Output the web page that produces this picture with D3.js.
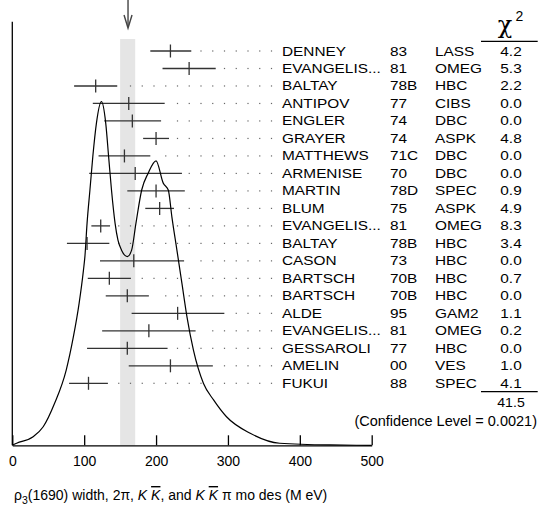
<!DOCTYPE html>
<html><head><meta charset="utf-8">
<script src="https://cdn.jsdelivr.net/npm/d3@7"></script>
<style>
body{margin:0;background:#fff;}
svg{display:block;font-family:"Liberation Sans",Arial,Helvetica,sans-serif;}
</style></head>
<body>
<svg id="c" width="544" height="512"></svg>
<script>
// ---------- data ----------
const authors = ["DENNEY","EVANGELIS...","BALTAY","ANTIPOV","ENGLER","GRAYER","MATTHEWS","ARMENISE","MARTIN","BLUM","EVANGELIS...","BALTAY","CASON","BARTSCH","BARTSCH","ALDE","EVANGELIS...","GESSAROLI","AMELIN","FUKUI"];
const years = ["83","81","78B","77","74","74","71C","70","78D","75","81","78B","73","70B","70B","95","81","77","00","88"];
const techs = ["LASS","OMEG","HBC","CIBS","DBC","ASPK","DBC","DBC","SPEC","ASPK","OMEG","HBC","HBC","HBC","HBC","GAM2","OMEG","HBC","VES","SPEC"];
const chi2 = ["4.2","5.3","2.2","0.0","0.0","4.8","0.0","0.0","0.9","4.9","8.3","3.4","0.0","0.7","0.0","1.1","0.2","0.0","1.0","4.1"];
const values = [220,246,116,162,167,200,156,171,200,205,123,104,169,135,160,230,190,160,220,106];
const errLo  = [28,37,30,50,39,18,36,64,40,20,13,28,47,30,30,64,65,56,58,27];
const errHi  = [29,37,30,50,40,18,36,65,40,20,13,31,70,30,30,65,65,56,59,27];
const chi2Total = "41.5";
const confLevel = "(Confidence Level = 0.0021)";
const average = 161;
const bandLo = 150, bandHi = 171;
const xTicks = [0,100,200,300,400,500];
// ideogram curve (MeV, relative height)
const curveX = [0,6,29,43,59,75,85,93,99,101,104,108,112,117,124,130,134,138,143,147,152,160,166,172,180,189,200,210,217,222,229,236,243,252,266,280,298,331,372,442,500];
const curveY = [0,0.006,0.025,0.054,0.123,0.219,0.316,0.414,0.510,0.549,0.646,0.743,0.840,0.937,1.0,0.937,0.840,0.743,0.646,0.597,0.568,0.549,0.568,0.646,0.743,0.792,0.828,0.763,0.743,0.665,0.568,0.471,0.374,0.277,0.180,0.132,0.083,0.035,0.006,0.001,0];

// ---------- drawing ----------
const svg = d3.select("#c");
const x = d3.scaleLinear().domain([0,500]).range([12.3,371.7]);
const rowY = d3.scalePoint().domain(d3.range(authors.length)).range([51,383.3]);
const yC = d3.scaleLinear().domain([0,1]).range([445.3,101.7]);
const axisY = 445.3;

// band
svg.append("rect").attr("x",x(bandLo)).attr("y",39)
  .attr("width",x(bandHi)-x(bandLo)).attr("height",axisY-39).attr("fill","#e5e5e5");

// arrow
const ax = x(average);
svg.append("line").attr("x1",ax).attr("x2",ax).attr("y1",0).attr("y2",27)
  .attr("stroke","#444").attr("stroke-width",1.4);
svg.append("polyline").attr("points",`${ax-4},15 ${ax},28 ${ax+4},15`)
  .attr("fill","none").attr("stroke","#444").attr("stroke-width",1.4);

// dots
const dotStep = 11.75, dotEnd = 271.5;
authors.forEach((a,i)=>{
  const end = x(values[i]+errHi[i]);
  const g = svg.append("g");
  for(let k=0;k<40;k++){
    const dx = dotEnd - k*dotStep;
    if(dx <= end+6) break;
    g.append("rect").attr("x",dx-0.6).attr("y",rowY(i)-0.6).attr("width",1.2).attr("height",1.2).attr("fill","#666");
  }
});

// error bars
const eb = svg.append("g").attr("stroke","#333").attr("stroke-width",1.3);
values.forEach((v,i)=>{
  const y = rowY(i);
  eb.append("line").attr("x1",x(v-errLo[i])).attr("x2",x(v+errHi[i])).attr("y1",y).attr("y2",y);
  eb.append("line").attr("x1",x(v)).attr("x2",x(v)).attr("y1",y-6.5).attr("y2",y+6.5);
});

// curve
const pts = curveX.map((c,i)=>[c,curveY[i]]);
svg.append("path").datum(pts)
  .attr("d",d3.line().x(d=>x(d[0])).y(d=>yC(d[1])).curve(d3.curveMonotoneX))
  .attr("fill","none").attr("stroke","#000").attr("stroke-width",1.2);

// left frame line
svg.append("line").attr("x1",x(0)).attr("x2",x(0)).attr("y1",21.7).attr("y2",axisY)
  .attr("stroke","#000").attr("stroke-width",1.3);

// x axis
const axis = d3.axisBottom(x).tickValues(xTicks).tickFormat(d3.format("d"))
  .tickSizeInner(-10).tickSizeOuter(0).tickPadding(11);
const gA = svg.append("g").attr("transform",`translate(0,${axisY})`).call(axis);
gA.select(".domain").attr("stroke","#000").attr("stroke-width",1.3);
gA.selectAll(".tick line").attr("stroke","#000").attr("stroke-width",1.3);
gA.selectAll(".tick text").attr("font-size",14).attr("font-family","Liberation Sans, Arial, sans-serif").attr("fill","#000");

// table text
const sx = 1.25, fs = 12.3;
function cell(tx, ty, s, anchor){
  svg.append("text").attr("transform",`translate(${tx},${ty}) scale(${sx},1)`)
    .attr("font-size",fs).attr("text-anchor",anchor||"start").attr("fill","#000").text(s);
}
authors.forEach((a,i)=>{
  const by = rowY(i)+4.5;
  cell(282,by,a);
  cell(390,by,years[i]);
  cell(435,by,techs[i]);
  cell(511,by,chi2[i],"middle");
});

// chi2 header
svg.append("text").attr("x",505).attr("y",33).attr("font-size",24)
  .attr("font-family","DejaVu Serif, serif").attr("text-anchor","middle").text("χ");
svg.append("text").attr("x",515.5).attr("y",20.5).attr("font-size",14).text("2");
svg.append("line").attr("x1",481).attr("x2",537.7).attr("y1",41.3).attr("y2",41.3).attr("stroke","#000").attr("stroke-width",1.2);
svg.append("line").attr("x1",481).attr("x2",537.7).attr("y1",391.7).attr("y2",391.7).attr("stroke","#000").attr("stroke-width",1.2);
svg.append("text").attr("transform",`translate(511,406.5) scale(1.15,1)`).attr("font-size",12.3).attr("text-anchor","middle").text(chi2Total);
svg.append("text").attr("x",537).attr("y",426).attr("font-size",14.5).attr("text-anchor","end").text(confLevel);

// x title
const t = svg.append("text").attr("x",14).attr("y",500).attr("font-size",14).attr("fill","#000");
t.append("tspan").text("ρ");
t.append("tspan").attr("font-size",10.5).attr("dy",4).text("3");
t.append("tspan").attr("dy",-4).text("(1690) width, 2π, ");
t.append("tspan").attr("font-style","italic").text("K ");
t.append("tspan").attr("font-style","italic").style("text-decoration","overline").text("K");
t.append("tspan").text(", and ");
t.append("tspan").attr("font-style","italic").text("K ");
t.append("tspan").attr("font-style","italic").style("text-decoration","overline").text("K");
t.append("tspan").text(" π mo des (M eV)");
</script>
</body></html>
